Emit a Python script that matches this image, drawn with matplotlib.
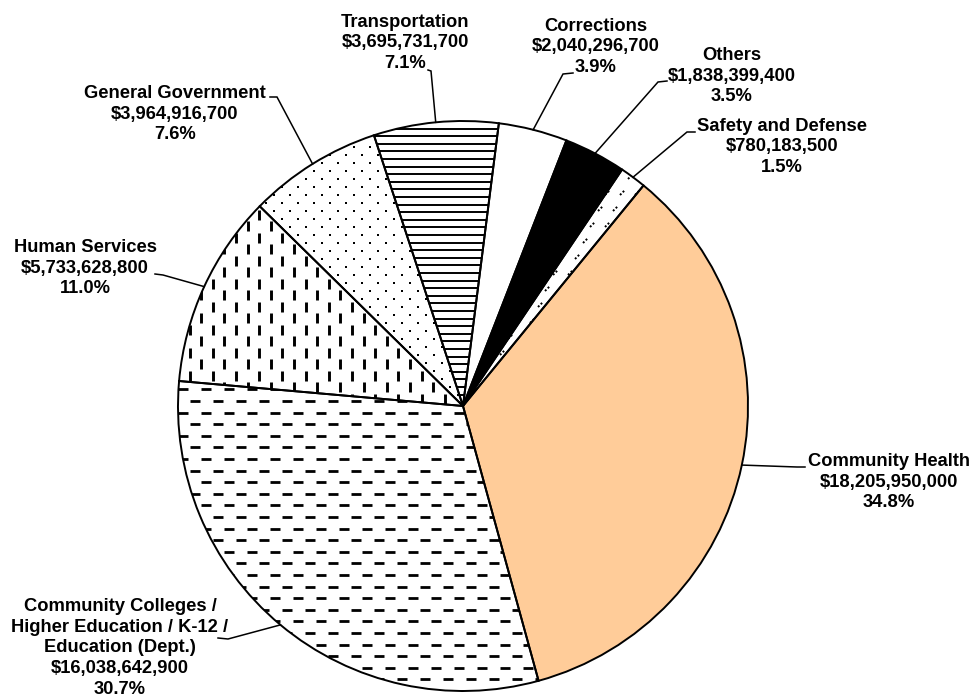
import numpy as np
import matplotlib
matplotlib.use("Agg")
import matplotlib.pyplot as plt
from matplotlib.collections import LineCollection

# data, clockwise from the Community Health slice
categories = [
    "Community Health",
    "Community Colleges /\nHigher Education / K-12 /\nEducation (Dept.)",
    "Human Services",
    "General Government",
    "Transportation",
    "Corrections",
    "Others",
    "Safety and Defense",
]
amounts = [
    18_205_950_000,
    16_038_642_900,
    5_733_628_800,
    3_964_916_700,
    3_695_731_700,
    2_040_296_700,
    1_838_399_400,
    780_183_500,
]

# layout (pixel coords of the 975x698 image, y down)
W, H = 975, 698
pie_cx, pie_cy, pie_r = 463, 406, 285
label_pos = [(889, 482), (120, 648), (85, 268), (175, 114),
             (405, 43), (596, 47), (732, 76), (782, 147)]
leader_elbow = [(797, 467), (228, 639), (163, 275), (277, 97),
                (431, 71), (563, 74), (658, 82), (687, 132)]
leader_end = [(805, 467), (218, 638), (155, 274), (270, 97),
              (428, 70), (573, 73), (667, 81), (695, 132)]
face_colors = ["#FFCC99", "white", "white", "white", "white", "white", "black", "white"]
patterns = [None, "hdash", "vdash", "dots", "hlines", None, None, "tiny"]

fig = plt.figure(figsize=(W / 100, H / 100), dpi=100)
ax = fig.add_axes([0, 0, 1, 1])

cx, cy, r = pie_cx, H - pie_cy, pie_r

wedges, _ = ax.pie(
    amounts,
    colors=face_colors,
    startangle=50.7,
    counterclock=False,
    center=(cx, cy),
    radius=r,
    wedgeprops=dict(linewidth=0),
)
ax.pie(
    amounts,
    colors=face_colors,
    startangle=50.7,
    counterclock=False,
    center=(cx, cy),
    radius=r,
    wedgeprops=dict(linewidth=1.4, edgecolor="black", fill=False, zorder=3),
)


def add_segments(segs, wedge, lw, ls="solid"):
    lc = LineCollection(segs, colors="black", linewidths=lw, linestyles=ls,
                        capstyle="butt", zorder=2)
    ax.add_collection(lc)
    lc.set_clip_path(wedge)


def dash_segments(step, dash, period, vertical=False):
    segs = []
    for i, v in enumerate(np.arange(-r, r + step, step)):
        shift = (i % 2) * period / 2
        for u in np.arange(-r - period + shift, r + period, period):
            if vertical:
                segs.append([(cx + v, cy + u), (cx + v, cy + u + dash)])
            else:
                segs.append([(cx + u, cy + v), (cx + u + dash, cy + v)])
    return segs


for wedge, pat in zip(wedges, patterns):
    if pat == "hdash":
        add_segments(dash_segments(11.6, 10, 23), wedge, 2.0)
    elif pat == "vdash":
        add_segments(dash_segments(11.6, 10, 23, vertical=True), wedge, 2.1)
    elif pat == "hlines":
        segs = [[(cx - r, cy + v), (cx + r, cy + v)] for v in np.arange(-r, r, 7.6)]
        add_segments(segs, wedge, 1.4)
    elif pat == "dots":
        xs, ys = [], []
        for j, v in enumerate(np.arange(-r, r, 8)):
            for u in np.arange(-r + (j % 2) * 8, r, 16):
                xs.append(cx + u)
                ys.append(cy + v)
        sc = ax.scatter(xs, ys, s=3, c="black", marker="s", linewidths=0, zorder=2)
        sc.set_clip_path(wedge)
    elif pat == "tiny":
        segs = []
        for j, v in enumerate(np.arange(-r, r, 16)):
            for u in np.arange(-r + (j % 2) * 7, r, 15):
                segs.append([(cx + u, cy + v), (cx + u + 5, cy + v + 5)])
        add_segments(segs, wedge, 1.4, ls=(0, (1, 1)))

total = sum(amounts)
for wedge, cat, amt, (lx, ly), (ex, ey), (sx, sy) in zip(
        wedges, categories, amounts, label_pos, leader_elbow, leader_end):
    pct = amt / total * 100
    ax.text(lx, H - ly, f"{cat}\n${amt:,}\n{pct:.1f}%", ha="center", va="center",
            fontsize=13.2, fontweight="bold", family="Liberation Sans", linespacing=1.3)
    mid = np.deg2rad((wedge.theta1 + wedge.theta2) / 2)
    mx, my = cx + r * np.cos(mid), cy + r * np.sin(mid)
    ax.plot([mx, ex, sx], [my, H - ey, H - sy], color="black", lw=1.1, zorder=4,
            solid_joinstyle="miter")

ax.set_xlim(0, W)
ax.set_ylim(0, H)
ax.set_aspect("equal")
ax.axis("off")

fig.savefig("out.png", dpi=100)
